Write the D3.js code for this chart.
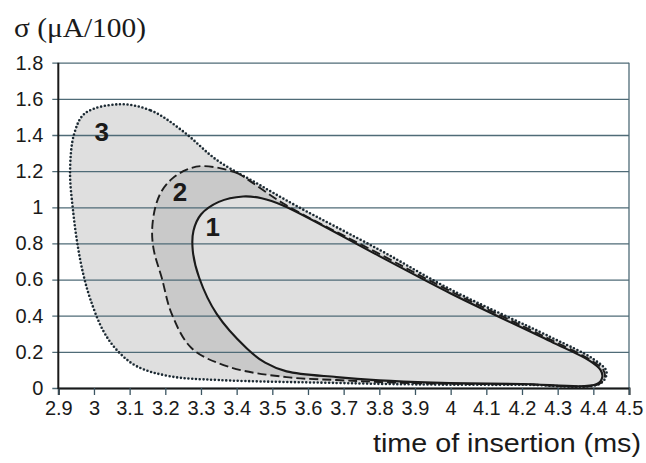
<!DOCTYPE html>
<html>
<head>
<meta charset="utf-8">
<script src="https://cdn.jsdelivr.net/npm/d3@7"></script>
<style>
  body { margin: 0; background: #fff; }
  text { font-family: "Liberation Sans", Arial, sans-serif; fill: #1a1a1a; }
</style>
</head>
<body>
<div id="chart"></div>
<script>
// chart data
var xTicks = [2.9, 3, 3.1, 3.2, 3.3, 3.4, 3.5, 3.6, 3.7, 3.8, 3.9, 4, 4.1, 4.2, 4.3, 4.4, 4.5];
var yTicks = [0, 0.2, 0.4, 0.6, 0.8, 1, 1.2, 1.4, 1.6, 1.8];

// curve 1 (solid), time (ms) / sigma
var curve1 = [[3.418,1.06],[3.47,1.05],[3.53,1.01],[3.8,0.73],[4.0,0.523],[4.28,0.258],[4.39,0.15],[4.42,0.1],[4.425,0.06],[4.41,0.022],[4.2,0.022],[3.95,0.03],[3.8,0.042],[3.68,0.06],[3.54,0.092],[3.48,0.14],[3.428,0.22],[3.344,0.41],[3.295,0.61],[3.277,0.76],[3.279,0.87],[3.30,0.96],[3.35,1.03]];
// curve 2 (dashed)
var curve2 = [[3.305,1.228],[3.40,1.19],[3.445,1.135],[3.53,1.022],[3.8,0.742],[4.0,0.535],[4.28,0.268],[4.395,0.152],[4.428,0.1],[4.432,0.06],[4.414,0.02],[4.2,0.02],[3.95,0.025],[3.8,0.033],[3.68,0.044],[3.54,0.06],[3.38,0.116],[3.274,0.22],[3.218,0.41],[3.19,0.61],[3.168,0.76],[3.163,0.87],[3.172,1.0],[3.19,1.09],[3.22,1.16],[3.26,1.208]];
// curve 3 (dotted)
var curve3 = [[3.07,1.57],[3.16,1.535],[3.25,1.42],[3.344,1.262],[3.45,1.14],[3.57,1.005],[3.8,0.765],[4.0,0.545],[4.28,0.282],[4.40,0.16],[4.437,0.09],[4.42,0.025],[4.2,0.018],[3.9,0.02],[3.68,0.028],[3.35,0.044],[3.213,0.065],[3.12,0.12],[3.064,0.21],[3.025,0.32],[2.99,0.49],[2.97,0.63],[2.955,0.78],[2.942,0.97],[2.933,1.2],[2.945,1.41],[2.975,1.52]];

var curveNames = ["1", "2", "3"];
var nameX = [3.333, 3.241, 3.022];
var nameY = [0.89, 1.085, 1.417];

// sizes
var svgWidth = 646;
var svgHeight = 463;
var margin = { top: 62.7, right: 17, bottom: 75, left: 58.3 };
var width = svgWidth - margin.left - margin.right;
var height = svgHeight - margin.top - margin.bottom;

var svg = d3.select("#chart").append("svg").attr("width", svgWidth).attr("height", svgHeight);
var chartGroup = svg.append("g").attr("transform", `translate(${margin.left}, ${margin.top})`);

var xScale = d3.scaleLinear().domain([2.9, 4.5]).range([0, width]);
var yScale = d3.scaleLinear().domain([0, 1.8]).range([height, 0]);

var line = d3.line()
  .x(d => xScale(d[0]))
  .y(d => yScale(d[1]))
  .curve(d3.curveCatmullRomClosed.alpha(0.5));

// fills
chartGroup.append("path").attr("d", line(curve3)).attr("fill", "#dfdfdf");
chartGroup.append("path").attr("d", line(curve2)).attr("fill", "#c9c9c9");
chartGroup.append("path").attr("d", line(curve1)).attr("fill", "#dfdfdf");

// horizontal grid lines (with little ticks left of the axis)
var leftAxis = d3.axisLeft(yScale).tickValues(yTicks).tickSize(-width - 6).tickPadding(10)
  .tickFormat(d3.format("~g"));
var yAxis = chartGroup.append("g").attr("transform", "translate(-6,0)").call(leftAxis);
yAxis.select(".domain").remove();
yAxis.selectAll(".tick line").attr("stroke", "#4f6b77").attr("stroke-width", 1.3);
yAxis.selectAll(".tick text").style("font-size", "20px").attr("fill", "#1a1a1a").attr("x", -9);

// right border
chartGroup.append("line").attr("x1", width).attr("x2", width).attr("y1", 0).attr("y2", height)
  .attr("stroke", "#4f6b77").attr("stroke-width", 1.3);

// curve outlines
chartGroup.append("path").attr("d", line(curve3)).attr("fill", "none")
  .attr("stroke", "#1c2a33").attr("stroke-width", 2.6)
  .attr("stroke-dasharray", "0,3.8").attr("stroke-linecap", "round");
chartGroup.append("path").attr("d", line(curve2)).attr("fill", "none")
  .attr("stroke", "#1e1e1e").attr("stroke-width", 1.9)
  .attr("stroke-dasharray", "9,4");
chartGroup.append("path").attr("d", line(curve1)).attr("fill", "none")
  .attr("stroke", "#1a1a1a").attr("stroke-width", 2.1);

// curve numbers
chartGroup.selectAll(".cname").data(curveNames).enter().append("text")
  .attr("class", "cname")
  .attr("x", (d, i) => xScale(nameX[i]))
  .attr("y", (d, i) => yScale(nameY[i]))
  .attr("text-anchor", "middle")
  .attr("dominant-baseline", "central")
  .style("font-size", "26px").style("font-weight", "bold")
  .text(d => d);

// x axis
var bottomAxis = d3.axisBottom(xScale).tickValues(xTicks).tickSize(7).tickPadding(6)
  .tickFormat(d3.format("~g"));
var xAxis = chartGroup.append("g").attr("transform", `translate(0, ${height})`).call(bottomAxis);
xAxis.select(".domain").attr("stroke", "#1a1a1a").attr("stroke-width", 2);
xAxis.selectAll(".tick line").attr("stroke", "#3c5663").attr("stroke-width", 1.3);
xAxis.selectAll(".tick text").style("font-size", "20px").attr("fill", "#1a1a1a");

// y axis line
chartGroup.append("line").attr("x1", 0).attr("x2", 0).attr("y1", 0).attr("y2", height + 1)
  .attr("stroke", "#1a1a1a").attr("stroke-width", 2);

// axis titles
svg.append("text").attr("x", 14).attr("y", 37)
  .attr("textLength", 132).attr("lengthAdjust", "spacingAndGlyphs")
  .style("font-family", "'Liberation Serif', 'Times New Roman', serif")
  .style("font-size", "27px")
  .text("σ (μA/100)");

svg.append("text").attr("x", 373).attr("y", 452)
  .attr("textLength", 268).attr("lengthAdjust", "spacingAndGlyphs")
  .style("font-size", "26px")
  .text("time of insertion (ms)");
</script>
</body>
</html>
